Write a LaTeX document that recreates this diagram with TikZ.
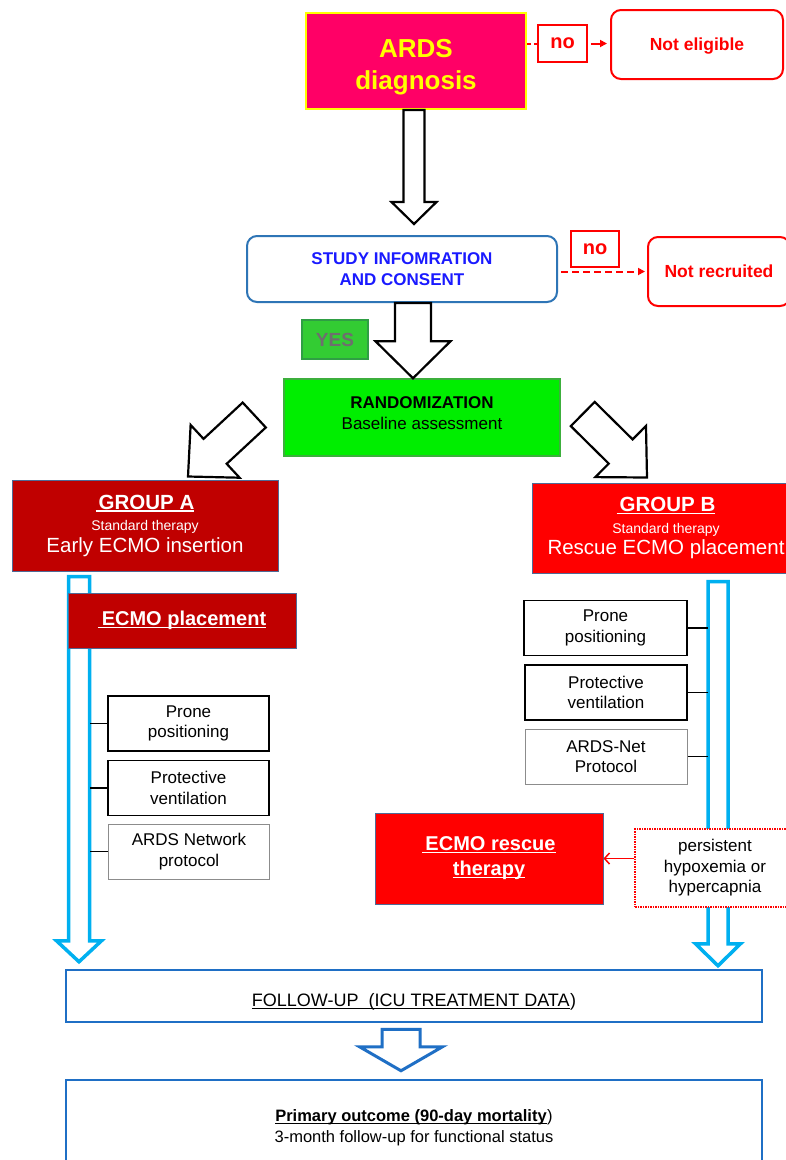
\documentclass[tikz,border=0pt]{standalone}
\usepackage{fontspec}
\setmainfont{Liberation Sans}
\usetikzlibrary{calc,arrows.meta}
\definecolor{ardsfill}{HTML}{FF0066}
\definecolor{yel}{HTML}{FFFF00}
\definecolor{studyb}{HTML}{2E75B6}
\definecolor{studyt}{HTML}{1A1AFF}
\definecolor{yesfill}{HTML}{33CC33}
\definecolor{yesb}{HTML}{2F9E44}
\definecolor{yest}{HTML}{6E6E6E}
\definecolor{randfill}{HTML}{00EE00}
\definecolor{randb}{HTML}{3CAF3C}
\definecolor{darkred}{HTML}{C00000}
\definecolor{slate}{HTML}{4F6A96}
\definecolor{cyanb}{HTML}{00B0F0}
\definecolor{blueb}{HTML}{1F6FC5}
\newcommand{\fsz}[2]{\fontsize{#1}{#2}\selectfont}
\newcommand{\myul}[1]{\setbox0=\hbox{#1}\rlap{\rule[-2.5pt]{\wd0}{1.2pt}}\box0}
% hollow block arrow: style, tail, tip, shaft half-width, head half-width, head length
\newcommand{\harrow}[6]{%
  \path (#3) coordinate (ha-tip) ($(#3)!#6!(#2)$) coordinate (ha-base) (#2) coordinate (ha-tail);
  \draw[#1] ($(ha-tail)!#4!90:(ha-tip)$) -- ($(ha-base)!#4!90:(ha-tip)$) -- ($(ha-base)!#5!90:(ha-tip)$) -- (ha-tip) -- ($(ha-base)!#5!-90:(ha-tip)$) -- ($(ha-base)!#4!-90:(ha-tip)$) -- ($(ha-tail)!#4!-90:(ha-tip)$) -- cycle;
}
\begin{document}
\begin{tikzpicture}[x=1pt,y=-1pt,
  box/.style={inner sep=0pt, align=center, line join=miter},
  harr/.style={draw=black, fill=white, line width=2.2pt, line join=miter},
  carr/.style={draw=cyanb, fill=white, line width=3.5pt, line join=miter},
  barr/.style={draw=blueb, fill=white, line width=3pt, line join=miter},
  sidebox/.style={box, draw=black, line width=1.3pt, fill=white, minimum width=161pt, minimum height=55pt, font=\fsz{17}{20.5}},
  sidegray/.style={sidebox, draw=black!45, line width=1pt},
  redbox/.style={box, draw=slate, line width=1pt, text=white},
  link/.style={black, line width=1.6pt},
  redline/.style={red, line width=2pt}
]
\fill[white] (0,0) rectangle (785,1160);
\useasboundingbox (0,0) rectangle (785,1160);

% top
\node[box, fill=ardsfill, draw=yel, line width=2pt, minimum width=220pt, minimum height=96pt, text=yel, font=\bfseries\fsz{26}{32}] (ards) at (416,61) {\rule{0pt}{31pt}ARDS\\diagnosis};
\node[box, draw=red, line width=1.5pt, fill=white, minimum width=49pt, minimum height=37pt, text=red, font=\bfseries\fsz{20}{24}] (no1) at (562.5,43.5) {no};
\node[box, draw=red, line width=2pt, rounded corners=10pt, minimum width=172pt, minimum height=69pt, text=red, font=\bfseries\fsz{17.5}{21}] (notelig) at (697,44.5) {\rule{0pt}{16pt}Not eligible};

\node[box, draw=studyb, line width=2pt, rounded corners=10pt, minimum width=310pt, minimum height=66pt, text=studyt, font=\bfseries\fsz{17}{20.5}] (study) at (402,269) {STUDY INFOMRATION\\AND CONSENT};
\node[box, draw=red, line width=1.5pt, minimum width=48pt, minimum height=36pt, text=red, font=\bfseries\fsz{20}{24}] (no2) at (595,249) {no};
\node[box, draw=red, line width=2pt, rounded corners=10pt, minimum width=142pt, minimum height=69pt, text=red, font=\bfseries\fsz{17.5}{21}] (notrec) at (719,271.5) {Not recruited};

\node[box, fill=yesfill, draw=yesb, line width=1.5pt, minimum width=66pt, minimum height=39pt, text=yest, font=\bfseries\fsz{19}{22}] (yes) at (335,339.5) {YES};
\node[box, fill=randfill, draw=randb, line width=1.5pt, minimum width=276pt, minimum height=77pt, font=\fsz{17}{21}] (rand) at (422,417.5) {\textbf{RANDOMIZATION}\\Baseline assessment\rule[-8pt]{0pt}{1pt}};

\node[redbox, fill=darkred, minimum width=266pt, minimum height=91pt, font=\fsz{20.5}{21.5}] (groupA) at (145,525.5) {{\bfseries\myul{\hspace{3pt}GROUP A}}\\{\fsz{14}{21.5}Standard therapy}\\Early ECMO insertion};
\node[redbox, fill=red, minimum width=268pt, minimum height=90pt, font=\fsz{20.5}{21.5}] (groupB) at (666,528) {{\bfseries\myul{\hspace{3pt}GROUP B}}\\{\fsz{14}{21.5}Standard therapy}\\Rescue ECMO placement};

\node[box, draw=blueb, line width=2.5pt, fill=white, minimum width=696pt, minimum height=52pt, font=\fsz{18}{21}] (follow) at (414,996) {\rule{0pt}{25pt}\myul{FOLLOW-UP\ \ (ICU TREATMENT DATA}\kern0.5pt)};
\node[box, draw=blueb, line width=2.5pt, fill=white, minimum width=696pt, minimum height=95pt, font=\fsz{16.5}{21}] (outcome) at (414,1127.5) {{\bfseries\myul{Primary outcome (90-day mortality}}\kern0.5pt)\\3-month follow-up for functional status};

% connectors top
\draw[redline, dash pattern=on 4pt off 3pt] (ards.east |- no1.west) -- (no1.west);
\draw[redline, -{Triangle[length=7pt,width=7pt]}, shorten <=3pt, shorten >=3pt] (no1.east) -- (no1.east -| notelig.west);
\draw[redline, dash pattern=on 7pt off 4pt, -{Triangle[length=7pt,width=7pt]}, shorten <=3pt, shorten >=2pt] (study.east |- notrec.west) -- (notrec.west);

% black block arrows
\coordinate (a1s) at ($(ards.south)+(-2,0)$);
\coordinate (a1e) at ($(a1s |- study.north)+(0,-11)$);
\harrow{harr}{a1s}{a1e}{10.5pt}{22.5pt}{22pt}
\coordinate (a2s) at ($(study.south)+(11,0)$);
\coordinate (a2e) at (a2s |- rand.north);
\harrow{harr}{a2s}{a2e}{18pt}{37.5pt}{37pt}
\coordinate (dLs) at ($(rand.west)+(-29,-2.5)$);
\coordinate (dLe) at ($(groupA.north)+(43,-3)$);
\harrow{harr}{dLs}{dLe}{17pt}{36pt}{37pt}
\coordinate (dRs) at ($(rand.east)+(22,-3.5)$);
\coordinate (dRe) at ($(groupB.north)+(-19,-5)$);
\harrow{harr}{dRs}{dRe}{17pt}{36pt}{37pt}

% cyan arrows
\coordinate (bLs) at ($(groupA.south)+(-66,5)$);
\coordinate (bLe) at ($(bLs |- follow.north)+(0,-7)$);
\harrow{carr}{bLs}{bLe}{10.5pt}{22.5pt}{21pt}
\coordinate (bRs) at ($(groupB.south)+(52,8)$);
\coordinate (bRe) at ($(bRs |- follow.north)+(0,-3)$);
\harrow{carr}{bRs}{bRe}{10pt}{22.5pt}{22pt}

% bottom arrow
\coordinate (fs) at ($(follow.south)+(-13,6)$);
\coordinate (fe) at ($(fs |- outcome.north)+(0,-8)$);
\harrow{barr}{fs}{fe}{19pt}{41.5pt}{24pt}

% left column
\node[redbox, fill=darkred, minimum width=228pt, minimum height=55pt, font=\bfseries\fsz{20}{24}] (ecmoA) at (182,620.5) {\myul{\hspace{4pt}ECMO placement}};
\node[sidebox] (prA) at (188.5,723.5) {Prone\\positioning};
\node[sidebox] (pvA) at (188.5,788) {Protective\\ventilation};
\node[sidegray] (arA) at (189,851.5) {ARDS Network\\protocol};
\coordinate (shL) at ($(bLs)+(10.5,0)$);
\draw[link] (prA.west) -- (prA.west -| shL);
\draw[link] (pvA.west) -- (pvA.west -| shL);
\draw[link] (arA.west) -- (arA.west -| shL);

% right column
\node[sidebox, minimum width=163pt] (prB) at (605.5,628) {Prone\\positioning};
\node[sidebox, minimum width=162pt] (pvB) at (606,692.5) {Protective\\ventilation};
\node[sidegray, minimum width=162pt] (arB) at (606,756.5) {ARDS-Net\\Protocol};
\coordinate (shR) at ($(bRs)+(-10,0)$);
\draw[link] (prB.east) -- (prB.east -| shR);
\draw[link] (pvB.east) -- (pvB.east -| shR);
\draw[link] (arB.east) -- (arB.east -| shR);

\node[redbox, fill=red, minimum width=228pt, minimum height=91pt, font=\bfseries\fsz{20}{25}] (rescue) at (489,858.5) {\myul{\hspace{3pt}ECMO rescue}\\\myul{therapy}};
\node[box, draw=red, line width=1.5pt, densely dotted, fill=white, minimum width=160pt, minimum height=78pt, font=\fsz{17}{20.5}] (persist) at (715,868) {persistent\\hypoxemia or\\hypercapnia};
\draw[red, line width=1.5pt, -{Straight Barb[length=5pt,width=11pt]}] (persist.west |- rescue.east) -- (rescue.east);
\end{tikzpicture}
\end{document}
